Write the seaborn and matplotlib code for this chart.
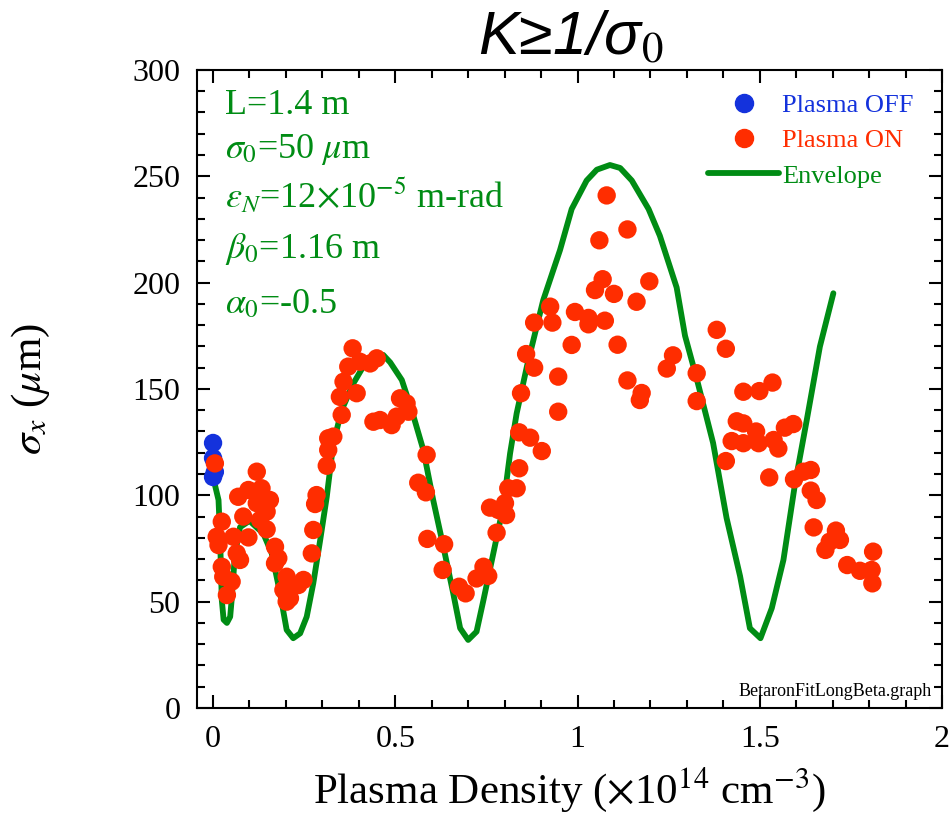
import numpy as np
import pandas as pd
import seaborn as sns
import matplotlib.pyplot as plt
from matplotlib.lines import Line2D
from matplotlib.ticker import MultipleLocator

# Plasma OFF shots (all at zero density)
off_density = [0.0, 0.0, 0.005, 0.0]
off_sigma = [124.6, 117.5, 111.0, 108.6]

# Plasma ON shots
on_density = [
    0.005, 0.383, 0.371, 0.403, 0.431, 0.449, 0.358, 0.394, 0.348, 0.353,
    0.440, 0.316, 0.330, 0.316, 0.312, 0.120, 0.069, 0.097, 0.133, 0.156,
    0.120, 0.147, 0.083, 0.129, 0.147, 0.024, 0.010, 0.056, 0.097, 0.015,
    0.065, 0.074, 0.024, 0.028, 0.051, 0.038, 0.170, 0.179, 0.170, 0.202,
    0.193, 0.211, 0.202, 0.248, 0.234, 0.271, 0.275, 0.284, 0.280,
    0.513, 0.531, 0.536, 0.504, 0.490, 0.458, 0.586, 0.563, 0.584, 0.588,
    0.634, 0.630, 0.675, 0.693, 0.723, 0.742, 0.755, 0.778, 0.760, 0.783,
    0.801, 0.804, 0.810, 0.833, 0.840, 0.840, 0.870, 0.902, 0.845, 0.859,
    0.881, 0.881, 0.931, 0.925, 0.984, 0.947, 0.947,
    1.080, 1.060, 1.137, 1.069, 1.048, 1.100, 1.162, 1.197, 0.993, 1.030,
    1.030, 1.075, 1.110, 1.137, 1.176, 1.171, 1.262, 1.245, 1.327, 1.327,
    1.382, 1.407, 1.437, 1.423, 1.407,
    1.455, 1.499, 1.535, 1.455, 1.490, 1.455, 1.497, 1.538, 1.551, 1.569,
    1.592, 1.526, 1.594, 1.620, 1.640, 1.640, 1.656, 1.648, 1.709, 1.720,
    1.692, 1.680, 1.740, 1.775, 1.807, 1.811, 1.809,
]
on_sigma = [
    115.0, 169.1, 160.5, 162.8, 162.0, 164.4, 153.4, 148.0, 146.3, 137.8,
    134.6, 126.8, 127.6, 121.3, 113.9, 111.1, 99.3, 102.5, 103.3, 97.8,
    96.3, 92.3, 90.0, 88.4, 84.0, 87.6, 80.5, 80.5, 80.2, 76.6,
    72.7, 69.6, 66.4, 61.7, 59.4, 53.1, 75.8, 70.4, 68.0, 61.7,
    55.5, 51.6, 50.0, 60.2, 57.8, 72.7, 83.7, 100.1, 95.9,
    145.6, 143.2, 139.3, 137.0, 133.0, 135.4, 119.0, 105.9, 101.4, 79.5,
    77.0, 64.9, 57.0, 53.9, 60.9, 66.4, 62.1, 82.4, 94.2, 93.1,
    96.3, 90.7, 103.3, 103.3, 112.7, 129.6, 127.1, 120.8, 148.0, 166.4,
    160.0, 181.2, 181.2, 188.7, 170.7, 155.8, 139.3,
    241.0, 219.9, 225.0, 201.6, 196.5, 194.7, 191.0, 200.6, 186.2, 183.4,
    180.4, 182.1, 170.8, 154.0, 148.1, 144.8, 165.8, 159.6, 157.4, 144.3,
    177.8, 168.9, 134.8, 125.5, 116.1,
    148.7, 149.0, 153.0, 133.8, 130.0, 124.5, 124.5, 126.0, 122.0, 131.8,
    133.5, 108.4, 107.5, 111.1, 111.9, 102.2, 97.8, 84.9, 83.4, 79.0,
    78.2, 74.3, 67.2, 64.5, 64.9, 73.5, 58.6,
]

# Envelope fit
env_density = [
    0.005, 0.015, 0.019, 0.024, 0.029, 0.038, 0.047, 0.051, 0.060, 0.074,
    0.100, 0.138, 0.161, 0.184, 0.202, 0.220, 0.239, 0.257, 0.275, 0.294,
    0.312, 0.330, 0.353, 0.385, 0.412, 0.444, 0.467, 0.486, 0.518, 0.545,
    0.577, 0.604, 0.632, 0.659, 0.678, 0.700, 0.723, 0.742, 0.769, 0.796,
    0.815, 0.833, 0.861, 0.888, 0.906, 0.952, 0.984, 1.025, 1.053, 1.089,
    1.117, 1.149, 1.195, 1.226, 1.272, 1.295, 1.327, 1.372, 1.409, 1.446,
    1.473, 1.502, 1.533, 1.565, 1.597, 1.629, 1.665, 1.702,
]
env_sigma = [
    105.0, 97.8, 82.0, 50.8, 41.5, 40.0, 42.9, 50.8, 72.0, 85.0,
    88.0, 82.0, 72.7, 53.9, 36.7, 32.8, 35.1, 42.9, 58.6, 79.0,
    99.3, 124.4, 140.1, 152.6, 160.5, 166.0, 166.0, 162.5, 154.2, 140.1,
    121.3, 97.8, 75.8, 53.9, 37.5, 32.0, 35.9, 50.8, 72.7, 94.6,
    119.7, 138.5, 160.5, 179.3, 191.8, 215.3, 234.6, 248.0, 253.1, 255.3,
    253.9, 248.0, 234.6, 222.0, 197.7, 175.0, 154.9, 124.6, 89.3, 62.0,
    37.5, 32.8, 46.9, 69.6, 105.6, 135.4, 169.9, 195.0,
]

param_lines = [
    "L=1.4 m",
    r"$\sigma_0$=50 $\mu$m",
    r"$\epsilon_N$=12$\times$10$^{-5}$ m-rad",
    r"$\beta_0$=1.16 m",
    r"$\alpha_0$=-0.5",
]

BLUE = "#1432dc"
RED = "#ff2d00"
GREEN = "#008c14"

sns.set_style("ticks")
plt.rcParams["font.family"] = ["Liberation Serif", "DejaVu Serif"]
plt.rcParams["mathtext.fontset"] = "stix"
plt.rcParams["text.color"] = "black"
plt.rcParams["axes.labelcolor"] = "black"
plt.rcParams["xtick.color"] = "black"
plt.rcParams["ytick.color"] = "black"

shots = pd.concat([
    pd.DataFrame({"density": off_density, "sigma": off_sigma, "state": "Plasma OFF"}),
    pd.DataFrame({"density": on_density, "sigma": on_sigma, "state": "Plasma ON"}),
])
envelope = pd.DataFrame({"density": env_density, "sigma": env_sigma})

fig = plt.figure(figsize=(9.49, 8.18), dpi=100)
ax = fig.add_axes([0.2076, 0.1345, 0.7850, 0.7800])

sns.lineplot(data=envelope, x="density", y="sigma", sort=False, color=GREEN,
             linewidth=4.2, ax=ax, zorder=2)
sns.scatterplot(data=shots, x="density", y="sigma", hue="state",
                palette={"Plasma OFF": BLUE, "Plasma ON": RED},
                s=175, linewidth=0, alpha=1, ax=ax, legend=False, zorder=3)

ax.set_xlim(-0.044, 2.0)
ax.set_ylim(0, 300)
ax.xaxis.set_major_locator(MultipleLocator(0.5))
ax.xaxis.set_minor_locator(MultipleLocator(0.1))
ax.yaxis.set_major_locator(MultipleLocator(50))
ax.yaxis.set_minor_locator(MultipleLocator(10))
ax.set_xticks([0, 0.5, 1, 1.5, 2])
ax.set_xticklabels(["0", "0.5", "1", "1.5", "2"])
ax.tick_params(which="both", direction="in", top=True, right=True,
               width=1.5, labelsize=23, pad=12, colors="black")
ax.tick_params(which="major", length=9.5)
ax.tick_params(which="minor", length=5.5)
for sp in ax.spines.values():
    sp.set_linewidth(1.5)
    sp.set_color("black")

ax.set_xlabel(r"Plasma Density ($\times$10$^{14}$ cm$^{-3}$)", fontsize=31,
              labelpad=9, color="black")
ax.set_ylabel(r"$\sigma_x$ ($\mu$m)", fontsize=31, color="black")
ax.yaxis.set_label_coords(-0.195, 0.5)

fig.text(0.601, 0.934, r"K≥1/σ$_0$", fontsize=44, style="italic",
         family=["Liberation Sans", "DejaVu Sans"], ha="center", va="baseline",
         color="black")

baselines = [114, 158, 207, 258, 313]
for txt, b in zip(param_lines, baselines):
    ax.text(0.0376, (708 - b) / 638, txt, transform=ax.transAxes,
            fontsize=26, color=GREEN, va="baseline", ha="left")

ax.text(0.9866, 0.0188, "BetaronFitLongBeta.graph", transform=ax.transAxes,
        fontsize=13, ha="right", va="baseline", color="black")

handles = [
    Line2D([], [], linestyle="none", marker="o", markersize=13, color=BLUE),
    Line2D([], [], linestyle="none", marker="o", markersize=13, color=RED),
    Line2D([], [], color=GREEN, linewidth=4.2),
]
ax.legend(handles, ["Plasma OFF", "Plasma ON", "Envelope"], loc="upper left",
          bbox_to_anchor=(0.686, 0.963), frameon=False, fontsize=19,
          handlelength=2.7, handletextpad=0.1, labelspacing=0.45,
          borderpad=0, borderaxespad=0,
          labelcolor=[BLUE, RED, GREEN])

fig.savefig("out.png", dpi=100)
